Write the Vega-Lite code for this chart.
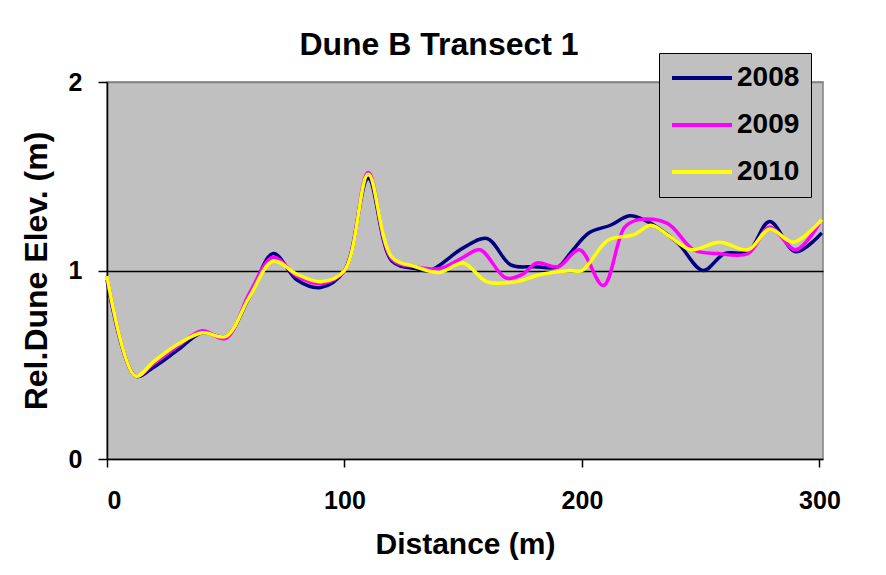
{
  "$schema": "https://vega.github.io/schema/vega-lite/v6.json",
  "autosize": {"type": "none"},
  "width": 716,
  "height": 377,
  "padding": {"left": 107, "top": 82, "right": 63, "bottom": 116},
  "background": "white",
  "title": {
    "text": "Dune B Transect 1",
    "font": "Liberation Sans",
    "fontSize": 32,
    "fontWeight": "bold",
    "color": "black",
    "anchor": "middle",
    "dx": -26,
    "offset": -9
  },
  "config": {
    "view": {"fill": "#C0C0C0", "stroke": "#808080", "strokeWidth": 1.5},
    "font": "Liberation Sans"
  },
  "data": {
    "values": [
      {"year": "2008", "d": 0, "elev": 0.95},
      {"year": "2008", "d": 12, "elev": 0.44},
      {"year": "2008", "d": 20, "elev": 0.49},
      {"year": "2008", "d": 30, "elev": 0.58},
      {"year": "2008", "d": 40, "elev": 0.67},
      {"year": "2008", "d": 50, "elev": 0.65},
      {"year": "2008", "d": 60, "elev": 0.86},
      {"year": "2008", "d": 70, "elev": 1.09},
      {"year": "2008", "d": 80, "elev": 0.95},
      {"year": "2008", "d": 90, "elev": 0.91},
      {"year": "2008", "d": 100, "elev": 1.0},
      {"year": "2008", "d": 110, "elev": 1.49},
      {"year": "2008", "d": 120, "elev": 1.05},
      {"year": "2008", "d": 130, "elev": 1.01},
      {"year": "2008", "d": 136, "elev": 1.0},
      {"year": "2008", "d": 150, "elev": 1.12},
      {"year": "2008", "d": 160, "elev": 1.17},
      {"year": "2008", "d": 170, "elev": 1.03},
      {"year": "2008", "d": 180, "elev": 1.02},
      {"year": "2008", "d": 190, "elev": 1.02},
      {"year": "2008", "d": 195, "elev": 1.09},
      {"year": "2008", "d": 203, "elev": 1.2},
      {"year": "2008", "d": 212, "elev": 1.24},
      {"year": "2008", "d": 220, "elev": 1.29},
      {"year": "2008", "d": 226, "elev": 1.27},
      {"year": "2008", "d": 240, "elev": 1.15},
      {"year": "2008", "d": 251, "elev": 1.0},
      {"year": "2008", "d": 260, "elev": 1.09},
      {"year": "2008", "d": 270, "elev": 1.1},
      {"year": "2008", "d": 279, "elev": 1.26},
      {"year": "2008", "d": 290, "elev": 1.1},
      {"year": "2008", "d": 301, "elev": 1.2},
      {"year": "2009", "d": 0, "elev": 0.97},
      {"year": "2009", "d": 12, "elev": 0.44},
      {"year": "2009", "d": 20, "elev": 0.51},
      {"year": "2009", "d": 30, "elev": 0.6},
      {"year": "2009", "d": 40, "elev": 0.68},
      {"year": "2009", "d": 50, "elev": 0.64},
      {"year": "2009", "d": 60, "elev": 0.88},
      {"year": "2009", "d": 70, "elev": 1.07},
      {"year": "2009", "d": 80, "elev": 0.97},
      {"year": "2009", "d": 90, "elev": 0.93},
      {"year": "2009", "d": 100, "elev": 1.0},
      {"year": "2009", "d": 110, "elev": 1.52},
      {"year": "2009", "d": 120, "elev": 1.06},
      {"year": "2009", "d": 130, "elev": 1.02},
      {"year": "2009", "d": 140, "elev": 1.01},
      {"year": "2009", "d": 150, "elev": 1.07},
      {"year": "2009", "d": 157, "elev": 1.11},
      {"year": "2009", "d": 168, "elev": 0.96},
      {"year": "2009", "d": 175, "elev": 0.98},
      {"year": "2009", "d": 181, "elev": 1.04},
      {"year": "2009", "d": 190, "elev": 1.02},
      {"year": "2009", "d": 199, "elev": 1.11},
      {"year": "2009", "d": 209, "elev": 0.92},
      {"year": "2009", "d": 218, "elev": 1.23},
      {"year": "2009", "d": 224, "elev": 1.27},
      {"year": "2009", "d": 236, "elev": 1.25},
      {"year": "2009", "d": 247, "elev": 1.11},
      {"year": "2009", "d": 257, "elev": 1.09},
      {"year": "2009", "d": 270, "elev": 1.09},
      {"year": "2009", "d": 279, "elev": 1.23},
      {"year": "2009", "d": 290, "elev": 1.11},
      {"year": "2009", "d": 300, "elev": 1.25},
      {"year": "2010", "d": 0, "elev": 0.97},
      {"year": "2010", "d": 12, "elev": 0.44},
      {"year": "2010", "d": 20, "elev": 0.52},
      {"year": "2010", "d": 30, "elev": 0.61},
      {"year": "2010", "d": 40, "elev": 0.67},
      {"year": "2010", "d": 50, "elev": 0.65},
      {"year": "2010", "d": 60, "elev": 0.86},
      {"year": "2010", "d": 70, "elev": 1.05},
      {"year": "2010", "d": 80, "elev": 0.98},
      {"year": "2010", "d": 90, "elev": 0.94},
      {"year": "2010", "d": 100, "elev": 1.0},
      {"year": "2010", "d": 110, "elev": 1.51},
      {"year": "2010", "d": 120, "elev": 1.07},
      {"year": "2010", "d": 130, "elev": 1.02},
      {"year": "2010", "d": 140, "elev": 0.99},
      {"year": "2010", "d": 150, "elev": 1.04},
      {"year": "2010", "d": 160, "elev": 0.94},
      {"year": "2010", "d": 172, "elev": 0.94},
      {"year": "2010", "d": 183, "elev": 0.98},
      {"year": "2010", "d": 195, "elev": 1.0},
      {"year": "2010", "d": 200, "elev": 1.0},
      {"year": "2010", "d": 211, "elev": 1.16},
      {"year": "2010", "d": 222, "elev": 1.19},
      {"year": "2010", "d": 229, "elev": 1.24},
      {"year": "2010", "d": 237, "elev": 1.18},
      {"year": "2010", "d": 246, "elev": 1.11},
      {"year": "2010", "d": 258, "elev": 1.15},
      {"year": "2010", "d": 270, "elev": 1.11},
      {"year": "2010", "d": 279, "elev": 1.22},
      {"year": "2010", "d": 289, "elev": 1.15},
      {"year": "2010", "d": 301, "elev": 1.27}
    ]
  },
  "mark": {"type": "line", "interpolate": "catmull-rom", "strokeWidth": 3.5},
  "encoding": {
    "x": {
      "field": "d",
      "type": "quantitative",
      "title": "Distance (m)",
      "scale": {"domain": [0, 301.5], "nice": false, "zero": false},
      "axis": {
        "values": [0, 100, 200, 300],
        "grid": false,
        "labelOverlap": false,
        "domainColor": "black",
        "domainWidth": 1.5,
        "tickColor": "black",
        "tickWidth": 1.5,
        "tickSize": 8,
        "labelPadding": 21,
        "labelFont": "Liberation Sans",
        "labelFontSize": 25,
        "labelFontWeight": "bold",
        "labelColor": "black",
        "titleFont": "Liberation Sans",
        "titleFontSize": 30,
        "titleFontWeight": "bold",
        "titleColor": "black",
        "titlePadding": 16
      }
    },
    "y": {
      "field": "elev",
      "type": "quantitative",
      "title": "Rel.Dune Elev. (m)",
      "scale": {"domain": [0, 2], "nice": false},
      "axis": {
        "values": [0, 1, 2],
        "labelExpr": "toString(datum.value)",
        "grid": true,
        "gridColor": {"condition": {"test": "datum.value == 1", "value": "black"}, "value": "#808080"},
        "gridWidth": 1.5,
        "gridOpacity": 1,
        "labelOverlap": false,
        "labelFlush": false,
        "domainColor": "black",
        "domainWidth": 1.5,
        "tickColor": "black",
        "tickWidth": 1.5,
        "tickSize": 9,
        "labelPadding": 16,
        "labelFont": "Liberation Sans",
        "labelFontSize": 25,
        "labelFontWeight": "bold",
        "labelColor": "black",
        "titleFont": "Liberation Sans",
        "titleFontSize": 32,
        "titleFontWeight": "bold",
        "titleColor": "black",
        "titlePadding": 15
      }
    },
    "color": {
      "field": "year",
      "type": "nominal",
      "title": null,
      "scale": {"domain": ["2008", "2009", "2010"], "range": ["#000080", "#FF00FF", "#FFFF00"]},
      "legend": {
        "orient": "none",
        "legendX": 552,
        "legendY": -29,
        "fillColor": "#C0C0C0",
        "strokeColor": "black",
        "padding": 11,
        "symbolType": "stroke",
        "symbolSize": 3600,
        "symbolStrokeWidth": 4,
        "clipHeight": 28,
        "labelFont": "Liberation Sans",
        "labelFontSize": 28,
        "labelFontWeight": "bold",
        "labelColor": "black",
        "labelOffset": 3,
        "rowPadding": 19
      }
    }
  }
}
